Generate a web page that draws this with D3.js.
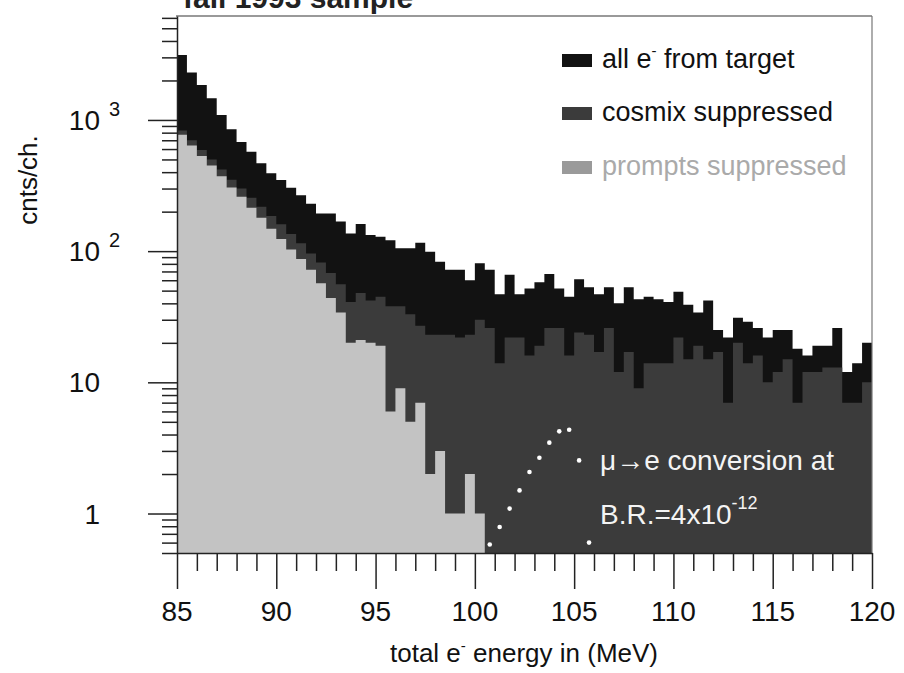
<!DOCTYPE html>
<html>
<head>
<meta charset="utf-8">
<script src="https://cdn.jsdelivr.net/npm/d3@7"></script>
<style>
  body { margin: 0; background: #fff; }
  svg { display: block; font-family: "Liberation Sans", Arial, Helvetica, sans-serif; }
</style>
</head>
<body>
<div id="chart"></div>
<script>
// low edge of every 0.5 MeV channel
const channelEnergy = [
  85, 85.5, 86, 86.5, 87, 87.5, 88, 88.5, 89, 89.5,
  90, 90.5, 91, 91.5, 92, 92.5, 93, 93.5, 94, 94.5,
  95, 95.5, 96, 96.5, 97, 97.5, 98, 98.5, 99, 99.5,
  100, 100.5, 101, 101.5, 102, 102.5, 103, 103.5, 104, 104.5,
  105, 105.5, 106, 106.5, 107, 107.5, 108, 108.5, 109, 109.5,
  110, 110.5, 111, 111.5, 112, 112.5, 113, 113.5, 114, 114.5,
  115, 115.5, 116, 116.5, 117, 117.5, 118, 118.5, 119, 119.5
];
const channelEnd = 120;

// counts per channel
const allFromTarget = [
  3130, 2300, 1850, 1465, 1090, 850, 680, 573, 467, 392,
  348, 304, 267, 230, 194, 194, 168, 136, 161, 133,
  129, 121, 105, 105, 116, 99, 83, 72, 72, 60,
  81, 72, 47, 66, 47, 52, 58, 67, 52, 45,
  61, 53, 47, 53, 40, 53, 43, 45, 43, 41,
  49, 39, 34, 42, 25, 22, 31, 29, 26, 22,
  25, 25, 18, 16, 19, 19, 26, 12, 14, 20
];
const cosmixSuppressed = [
  830, 700, 590, 500, 420, 350, 300, 255, 218, 185,
  160, 135, 115, 96, 82, 68, 56, 41, 48, 42,
  45, 38, 38, 33, 27, 23, 23, 23, 22, 23,
  30, 26, 14, 22, 22, 16, 19, 26, 26, 16,
  24, 23, 17, 26, 12, 17, 9, 14, 14, 14,
  22, 15, 19, 15, 17, 7, 20, 14, 16, 10,
  12, 15, 7, 12, 12, 13, 13, 7, 7, 10
];
const promptsSuppressed = [
  770, 640, 530, 450, 372, 305, 260, 214, 180, 148,
  124, 103, 87, 72, 57, 44, 34, 20, 21, 20,
  19, 6, 9, 5, 7, 2, 3, 1, 1, 2,
  1, 0, 0, 0, 0, 0, 0, 0, 0, 0,
  0, 0, 0, 0, 0, 0, 0, 0, 0, 0,
  0, 0, 0, 0, 0, 0, 0, 0, 0, 0,
  0, 0, 0, 0, 0, 0, 0, 0, 0, 0
];

// expected mu -> e conversion signal (white dots)
const conversionEnergy = [100.75, 101.25, 101.75, 102.25, 102.75, 103.25, 103.75, 104.25, 104.75, 105.25, 105.75];
const conversionCounts = [0.58, 0.79, 1.09, 1.5, 2.07, 2.66, 3.47, 4.23, 4.35, 2.54, 0.6];

const xTickLabels = [85, 90, 95, 100, 105, 110, 115, 120];
const yTickValues = [1, 10, 100, 1000];
const yTickLabels = [["1", ""], ["10", ""], ["10", "2"], ["10", "3"]];
const legendNames = ["all e", "cosmix suppressed", "prompts suppressed"];

const W = 904, H = 673;
const fillBlack = "#121212", fillDark = "#3b3b3b", fillLight = "#c3c3c3";

const svg = d3.select("#chart").append("svg")
  .attr("width", W).attr("height", H);

const x = d3.scaleLinear().domain([85, 120]).range([177, 872]);
const y = d3.scaleLog().domain([0.5, 6200]).range([553, 16]);
const yBottom = y.range()[0];

// step histogram through d3.area
function histArea(counts) {
  const pts = channelEnergy.map((e, i) => [e, counts[i]]);
  pts.push([channelEnd, counts[counts.length - 1]]);
  return d3.area()
    .curve(d3.curveStepAfter)
    .x(d => x(d[0]))
    .y0(yBottom)
    .y1(d => d[1] > 0 ? y(d[1]) : yBottom)(pts);
}

svg.append("path").attr("d", histArea(allFromTarget)).attr("fill", fillBlack);
svg.append("path").attr("d", histArea(cosmixSuppressed)).attr("fill", fillDark);
svg.append("path").attr("d", histArea(promptsSuppressed)).attr("fill", fillLight);

// conversion dots
svg.selectAll(".conv")
  .data(conversionEnergy)
  .enter()
  .append("circle")
    .attr("cx", d => x(d))
    .attr("cy", (d, i) => y(conversionCounts[i]))
    .attr("r", 2.3)
    .attr("fill", "#fff");

// frame: top and right
svg.append("line").attr("x1", 176).attr("x2", 872).attr("y1", 16).attr("y2", 16)
  .attr("stroke", "#777").attr("stroke-width", 1.5);
svg.append("line").attr("x1", 872).attr("x2", 872).attr("y1", 16).attr("y2", 553)
  .attr("stroke", "#777").attr("stroke-width", 1.2);

// x axis, ticks every 1 MeV, long ones every 5
const xAxis = svg.append("g")
  .attr("transform", `translate(0, ${yBottom})`)
  .call(d3.axisBottom(x).tickValues(d3.range(85, 121, 1)).tickSize(18).tickSizeOuter(0).tickFormat(""));
xAxis.selectAll(".tick line")
  .attr("y2", d => d % 5 === 0 ? 36 : 18);
xAxis.selectAll("line, path").attr("stroke", "#222").attr("stroke-width", 1.5);

svg.selectAll(".xlab")
  .data(xTickLabels)
  .enter()
  .append("text")
    .attr("x", d => x(d))
    .attr("y", 621)
    .attr("text-anchor", "middle")
    .attr("font-size", 28)
    .attr("fill", "#111")
    .text(d => d);

// y axis, log ticks
const yAxis = svg.append("g")
  .attr("transform", `translate(${x(85)}, 0)`)
  .call(d3.axisLeft(y).tickValues(y.ticks()).tickSize(15).tickSizeOuter(0).tickFormat(""));
yAxis.selectAll(".tick line")
  .attr("x2", d => yTickValues.includes(d) ? -29 : -15);
yAxis.selectAll("line, path").attr("stroke", "#222").attr("stroke-width", 1.5);

const yLab = svg.selectAll(".ylab")
  .data(yTickValues)
  .enter()
  .append("g");
yLab.append("text")
  .attr("x", 100)
  .attr("y", d => y(d) + 10)
  .attr("text-anchor", "end")
  .attr("font-size", 28)
  .attr("fill", "#111")
  .text((d, i) => yTickLabels[i][0]);
yLab.append("text")
  .attr("x", 109)
  .attr("y", d => y(d) - 4)
  .attr("font-size", 20)
  .attr("fill", "#111")
  .text((d, i) => yTickLabels[i][1]);

// axis titles
const xTitle = svg.append("text")
  .attr("x", 524).attr("y", 662)
  .attr("text-anchor", "middle")
  .attr("font-size", 26)
  .attr("fill", "#111")
  .text("total e");
xTitle.append("tspan").attr("font-size", 15).attr("dy", -11).text("-");
xTitle.append("tspan").attr("dy", 11).text(" energy in (MeV)");

svg.append("text")
  .attr("transform", "translate(37, 180) rotate(-90)")
  .attr("text-anchor", "middle")
  .attr("font-size", 26)
  .attr("fill", "#111")
  .text("cnts/ch.");

// title, mostly cut off by the top of the page as in the scan
svg.append("text")
  .attr("x", 183).attr("y", 8)
  .attr("font-size", 30)
  .attr("font-weight", "bold")
  .attr("fill", "#222")
  .text("fall 1993 sample");

// legend
const legendFills = [fillBlack, fillDark, "#9a9a9a"];
const legendText = ["#111", "#111", "#aaa"];
const legendY = [68, 121, 175];
legendNames.forEach((name, i) => {
  svg.append("rect")
    .attr("x", 562).attr("y", legendY[i] - 14)
    .attr("width", 30).attr("height", 13)
    .attr("fill", legendFills[i]);
  const t = svg.append("text")
    .attr("x", 602).attr("y", legendY[i])
    .attr("font-size", 27)
    .attr("fill", legendText[i])
    .text(name);
  if (i === 0) {
    t.append("tspan").attr("font-size", 15).attr("dy", -12).text("-");
    t.append("tspan").attr("dy", 12).text(" from target");
  }
});

// annotation in white
svg.append("text")
  .attr("x", 600).attr("y", 470)
  .attr("font-size", 28)
  .attr("fill", "#f4f4f4")
  .text("\u03bc\u2192e conversion at");
const br = svg.append("text")
  .attr("x", 600).attr("y", 524)
  .attr("font-size", 28)
  .attr("fill", "#f4f4f4")
  .text("B.R.=4x10");
br.append("tspan").attr("font-size", 18).attr("dy", -15).text("-12");
</script>
</body>
</html>
